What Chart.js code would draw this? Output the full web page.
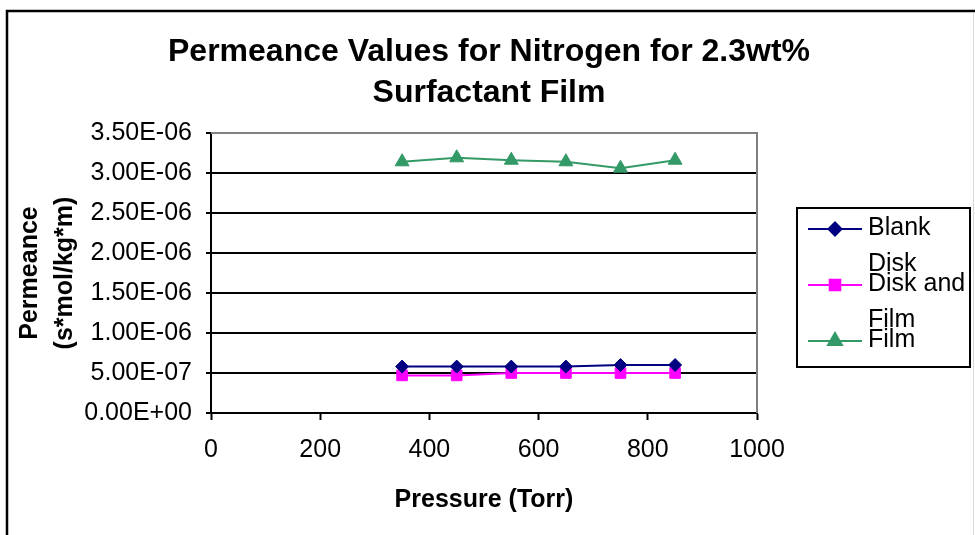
<!DOCTYPE html>
<html>
<head>
<meta charset="utf-8">
<title>Permeance Values for Nitrogen</title>
<script src="https://cdn.jsdelivr.net/npm/chart.js@4/dist/chart.umd.min.js"></script>
<style>
  body { margin: 0; background: #fff; }
  canvas { display: block; }
</style>
</head>
<body>
<canvas id="result" width="975" height="535"></canvas>
<script>
const FONT = "'Liberation Sans', Arial, sans-serif";

const titleLines = ['Permeance Values for Nitrogen for 2.3wt%', 'Surfactant Film'];
const xTitle = 'Pressure (Torr)';
const yTitle = ['Permeance', '(s*mol/kg*m)'];

// pressures in Torr
const pressures = [350, 450, 550, 650, 750, 850];

const seriesNames = ['Blank Disk', 'Disk and Film', 'Film'];
const blankDisk = [5.8e-7, 5.8e-7, 5.8e-7, 5.8e-7, 6.0e-7, 6.0e-7];
const diskAndFilm = [4.7e-7, 4.7e-7, 5.0e-7, 5.0e-7, 5.0e-7, 5.0e-7];
const film = [3.14e-6, 3.19e-6, 3.16e-6, 3.14e-6, 3.06e-6, 3.16e-6];

const seriesColors = ['#000080', '#FF00FF', '#339966'];
const seriesMarkers = [
    { pointStyle: 'rectRot', radius: 6.5 },
    { pointStyle: 'rect', radius: 7.5 },
    { pointStyle: 'triangle', radius: 8 }
];

// excel style tick text, e.g. 3.50E-06
function sci(v) {
    if (Math.abs(v) < 1e-12) return '0.00E+00';
    const parts = v.toExponential(2).split('e');
    const n = parseInt(parts[1], 10);
    return parts[0] + 'E' + (n < 0 ? '-' : '+') + String(Math.abs(n)).padStart(2, '0');
}

function toPoints(values) {
    return values.map((v, i) => ({ x: pressures[i], y: v }));
}

function wrapWords(ctx, text, maxWidth) {
    const words = text.split(' ');
    const lines = [];
    let line = '';
    words.forEach(w => {
        const test = line ? line + ' ' + w : w;
        if (line && ctx.measureText(test).width > maxWidth) {
            lines.push(line);
            line = w;
        } else {
            line = test;
        }
    });
    lines.push(line);
    return lines;
}

const frameAndLegend = {
    id: 'frameAndLegend',
    beforeDatasetsDraw(chart) {
        const ctx = chart.ctx;
        const a = chart.chartArea;
        // grey plot border on top and right
        ctx.save();
        ctx.strokeStyle = '#808080';
        ctx.lineWidth = 2;
        ctx.beginPath();
        ctx.moveTo(a.left, a.top);
        ctx.lineTo(a.right, a.top);
        ctx.lineTo(a.right, a.bottom);
        ctx.stroke();
        ctx.restore();
    },
    afterDraw(chart) {
        const ctx = chart.ctx;
        ctx.save();

        // outer frame
        ctx.strokeStyle = '#000';
        ctx.lineWidth = 2.5;
        ctx.strokeRect(7, 11, 1100, 700);
        ctx.strokeStyle = '#d8d8d8';
        ctx.lineWidth = 1;
        ctx.beginPath();
        ctx.moveTo(973.5, 12);
        ctx.lineTo(973.5, 535);
        ctx.stroke();

        // chart title
        ctx.fillStyle = '#000';
        ctx.font = 'bold 32px ' + FONT;
        ctx.textAlign = 'center';
        ctx.textBaseline = 'middle';
        ctx.fillText(titleLines[0], 489, 52);
        ctx.fillText(titleLines[1], 489, 93);

        // legend
        ctx.strokeStyle = '#000';
        ctx.lineWidth = 2;
        ctx.strokeRect(797, 208, 173, 159);
        ctx.font = '25px ' + FONT;
        ctx.textAlign = 'left';
        const rowY = [229, 285, 341];
        seriesNames.forEach((name, i) => {
            const y = rowY[i];
            ctx.strokeStyle = seriesColors[i];
            ctx.fillStyle = seriesColors[i];
            ctx.lineWidth = 2;
            ctx.beginPath();
            ctx.moveTo(808, y);
            ctx.lineTo(862, y);
            ctx.stroke();
            Chart.helpers.drawPoint(ctx, {
                pointStyle: seriesMarkers[i].pointStyle,
                radius: seriesMarkers[i].radius,
                rotation: 0,
                borderWidth: 1
            }, 835, y);
            ctx.fillStyle = '#000';
            wrapWords(ctx, name, 102).forEach((line, j) => {
                ctx.fillText(line, 868, y - 1 + j * 36);
            });
        });
        ctx.restore();
    }
};

const data = {
    datasets: [blankDisk, diskAndFilm, film].map((values, i) => ({
        label: seriesNames[i],
        data: toPoints(values),
        borderColor: seriesColors[i],
        backgroundColor: seriesColors[i],
        borderWidth: 2,
        pointStyle: seriesMarkers[i].pointStyle,
        pointRadius: seriesMarkers[i].radius,
        pointHoverRadius: seriesMarkers[i].radius,
        pointBorderWidth: 1,
        tension: 0
    }))
};

const config = {
    type: 'line',
    data: data,
    options: {
        responsive: false,
        animation: false,
        devicePixelRatio: 1,
        layout: { padding: { top: 133, right: 218, left: 0, bottom: 0 } },
        plugins: {
            legend: { display: false },
            title: { display: false },
            tooltip: { enabled: false }
        },
        scales: {
            x: {
                type: 'linear',
                min: 0,
                max: 1000,
                ticks: {
                    stepSize: 200,
                    color: '#000',
                    padding: 15,
                    maxRotation: 0,
                    font: { family: FONT, size: 25 },
                    callback: v => String(v)
                },
                grid: {
                    drawOnChartArea: false,
                    tickLength: 7,
                    tickWidth: 2,
                    tickColor: '#000'
                },
                border: { color: '#000', width: 2 },
                title: {
                    display: true,
                    text: xTitle,
                    color: '#000',
                    font: { family: FONT, size: 25, weight: 'bold', lineHeight: 1.2 },
                    padding: { top: 0, bottom: 20 }
                },
                afterFit(scale) { scale.height = 122; }
            },
            y: {
                min: 0,
                max: 3.5e-6,
                ticks: {
                    stepSize: 5e-7,
                    color: '#000',
                    padding: 14,
                    font: { family: FONT, size: 25 },
                    callback: v => sci(v)
                },
                grid: {
                    color: '#000',
                    lineWidth: 2,
                    tickLength: 5,
                    tickWidth: 2,
                    tickColor: '#000'
                },
                border: { color: '#000', width: 2 },
                title: {
                    display: true,
                    text: yTitle,
                    color: '#000',
                    font: { family: FONT, size: 25, weight: 'bold', lineHeight: 1.4 },
                    padding: { top: 13, bottom: 0 }
                },
                afterFit(scale) { scale.width = 211; }
            }
        }
    },
    plugins: [frameAndLegend]
};

window.addEventListener('DOMContentLoaded', () => {
    new Chart(document.getElementById('result'), config);
});
</script>
</body>
</html>
